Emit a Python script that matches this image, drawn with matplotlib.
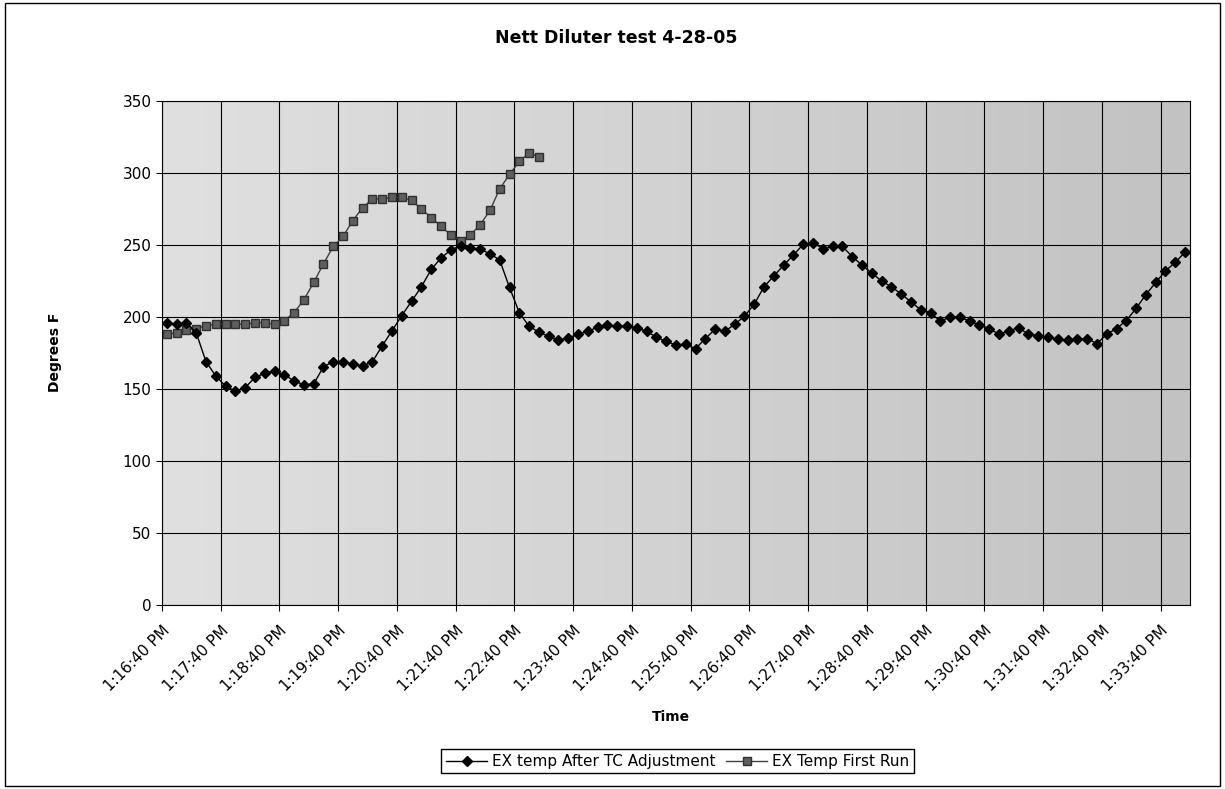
import matplotlib.pyplot as plt
import numpy as np
from matplotlib.colors import LinearSegmentedColormap
from matplotlib.patches import Rectangle

# Time labels shown on the category axis (one every 6 readings = 1 minute)
time_labels = ["1:16:40 PM", "1:17:40 PM", "1:18:40 PM", "1:19:40 PM", "1:20:40 PM",
               "1:21:40 PM", "1:22:40 PM", "1:23:40 PM", "1:24:40 PM", "1:25:40 PM",
               "1:26:40 PM", "1:27:40 PM", "1:28:40 PM", "1:29:40 PM", "1:30:40 PM",
               "1:31:40 PM", "1:32:40 PM", "1:33:40 PM"]

# EX temp After TC Adjustment (one reading every 10 s, from 1:16:40 PM)
ex_after_tc = [196, 195, 196, 189, 169, 159, 152, 148.5, 151, 158,
               161, 162.5, 160, 155.5, 153, 153.5, 165.5, 169, 169, 167.5,
               166, 169, 180, 190.5, 201, 211, 221, 233, 241, 246.5,
               249.5, 248, 247, 244, 239.5, 220.5, 203, 193.5, 189.5, 186.5,
               184, 185.5, 188, 190, 193, 194.5, 193.5, 194, 192.5, 190,
               186, 183, 180.5, 181, 178, 185, 191.5, 190, 195, 200.5,
               209, 221, 228.5, 236, 243, 250.5, 251.5, 247.5, 249, 249,
               242, 236, 230.5, 225, 221, 216, 210.5, 205, 203, 197,
               200, 200, 197, 194.5, 192, 188, 190.5, 192.5, 188, 187,
               186, 184.5, 184, 184.5, 185, 181.5, 188, 192, 197.5, 206,
               215.5, 224, 232, 238, 245]

# EX Temp First Run (stops after 39 readings)
ex_first_run = [188, 189, 191, 192, 194, 195, 195, 195, 195, 196,
                196, 195, 197.5, 203, 212, 224, 237, 249, 256, 267,
                276, 282, 282, 283, 283, 281, 275, 269, 263, 257,
                253, 257, 264, 274, 289, 299, 308, 314, 311]

x_after = np.arange(len(ex_after_tc))
x_first = np.arange(len(ex_first_run))

fig = plt.figure(figsize=(12.25, 7.89), dpi=100)
ax = fig.add_axes([0.1322, 0.2332, 0.8392, 0.6388])

# stippled grey plot area: lighter on the left, darker on the right
bg = LinearSegmentedColormap.from_list("bg", ["#e0e0e0", "#d2d2d2", "#c2c2c2"])
ax.imshow(np.linspace(0, 1, 256).reshape(1, -1), cmap=bg, aspect="auto",
          extent=[-0.5, len(ex_after_tc) - 0.5, 0, 350], zorder=0)

ax.plot(x_after, ex_after_tc, color="black", lw=1.0, marker="D", markersize=5.5,
        markerfacecolor="black", markeredgecolor="black", zorder=4,
        label="EX temp After TC Adjustment")
ax.plot(x_first, ex_first_run, color="#404040", lw=1.0, marker="s", markersize=6,
        markerfacecolor="#5e5e5e", markeredgecolor="#303030", zorder=3,
        label="EX Temp First Run")

ax.set_xlim(-0.5, len(ex_after_tc) - 0.5)
ax.set_ylim(0, 350)
ax.set_yticks(np.arange(0, 351, 50))
ax.set_xticks(np.arange(0, len(ex_after_tc), 6) - 0.5)
ax.set_xticklabels(time_labels, rotation=45, ha="right", rotation_mode="anchor", fontsize=11)
ax.tick_params(axis="y", labelsize=11, length=4, direction="out")
ax.tick_params(axis="x", length=4, direction="out", pad=9)
ax.grid(True, color="black", lw=0.8)

for s in ax.spines.values():
    s.set_color("black")
    s.set_linewidth(0.8)

fig.text(0.503, 0.952, "Nett Diluter test 4-28-05", ha="center", va="center",
         fontsize=12.5, fontweight="bold")
fig.text(0.548, 0.091, "Time", ha="center", va="center", fontsize=10, fontweight="bold")
fig.text(0.045, 0.553, "Degrees F", ha="center", va="center", rotation=90,
         fontsize=10, fontweight="bold")

ax.legend(loc="center", bbox_to_anchor=(0.553, 0.035), bbox_transform=fig.transFigure,
          ncol=2, fontsize=11, frameon=True, fancybox=False, edgecolor="black",
          framealpha=1, handlelength=2.7, handletextpad=0.3, columnspacing=0.7,
          borderpad=0.3)

# outer chart border
fig.patches.append(Rectangle((0.004, 0.004), 0.992, 0.992, transform=fig.transFigure,
                             fill=False, edgecolor="black", lw=1))

plt.savefig("out.png", dpi=100)
